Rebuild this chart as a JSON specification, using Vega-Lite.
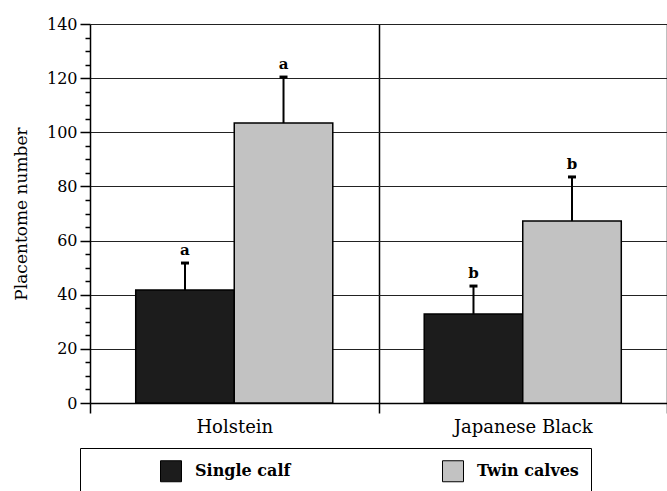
{
  "$schema": "https://vega.github.io/schema/vega-lite/v6.json",
  "width": 577,
  "height": 379,
  "autosize": "none",
  "padding": {"left": 90, "top": 24, "right": 0, "bottom": 88},
  "background": "white",
  "config": {"view": {"stroke": null}, "font": "DejaVu Serif"},
  "data": {"values": [
    {"breed": "Holstein", "calf": "Single calf", "mean": 41.7, "upper": 51.7, "letter": "a"},
    {"breed": "Holstein", "calf": "Twin calves", "mean": 103.4, "upper": 120.4, "letter": "a"},
    {"breed": "Japanese Black", "calf": "Single calf", "mean": 32.9, "upper": 43.2, "letter": "b"},
    {"breed": "Japanese Black", "calf": "Twin calves", "mean": 67.2, "upper": 83.5, "letter": "b"}
  ]},
  "encoding": {
    "x": {
      "field": "breed", "type": "nominal",
      "scale": {"domain": ["Holstein", "Japanese Black"], "paddingInner": 0, "paddingOuter": 0},
      "axis": {
        "title": null, "tickBand": "extent", "grid": true, "gridColor": "black", "gridWidth": 1.5,
        "gridOpacity": {"condition": {"test": "datum.extra", "value": 0}, "value": 1},
        "tickSize": 10, "tickColor": "black", "tickWidth": 1.5,
        "domainColor": "black", "domainWidth": 1.5,
        "labelFontSize": 18, "labelColor": "black", "labelPadding": 5, "labelAngle": 0
      }
    },
    "xOffset": {
      "field": "calf", "type": "nominal",
      "scale": {"domain": ["Single calf", "Twin calves"], "paddingInner": 0, "paddingOuter": 0.464}
    }
  },
  "layer": [
    {
      "mark": {"type": "bar", "stroke": "black", "strokeWidth": 1.5},
      "encoding": {
        "y": {
          "field": "mean", "type": "quantitative",
          "scale": {"domain": [0, 140], "nice": false},
          "axis": {
            "orient": "left",
            "values": [0, 20, 40, 60, 80, 100, 120, 140],
            "tickSize": 10, "tickWidth": 1.5, "tickColor": "black",
            "domainColor": "black", "domainWidth": 1.5,
            "grid": true, "gridColor": "#222222", "gridWidth": 1.2,
            "labelFontSize": 16, "labelColor": "black", "labelPadding": 3,
            "title": "Placentome number", "titleFontSize": 17, "titleFontWeight": "normal",
            "titleColor": "black", "titlePadding": 16
          }
        },
        "fill": {
          "field": "calf", "type": "nominal",
          "scale": {"domain": ["Single calf", "Twin calves"], "range": ["#1c1c1c", "#c2c2c2"]},
          "legend": {
            "orient": "none", "legendX": -10, "legendY": 424, "direction": "horizontal",
            "title": "\u00a0", "titleOrient": "left", "titlePadding": 68, "titleFontSize": 16,
            "strokeColor": "black", "padding": 12,
            "symbolType": "square", "symbolSize": 441, "symbolStrokeColor": "black", "symbolStrokeWidth": 1,
            "labelFontSize": 16, "labelFontWeight": "bold", "labelColor": "black", "labelOffset": 13,
            "columnPadding": 149, "labelLimit": 600,
            "labelExpr": "datum.label == 'Twin calves' ? 'Twin calves\u00a0\u00a0\u00a0\u00a0\u00a0\u00a0\u00a0\u00a0\u00a0\u00a0\u00a0\u00a0\u00a0\u00a0\u00a0\u00a0\u00a0\u00a0\u00a0\u00a0\u00a0\u00a0\u00a0\u00a0\u00a0\u00a0\u00a0\u00a0\u00a0\u00a0\u00a0\u00a0\u00a0\u00a0\u00a0\u00a0\u00a0\u00a0\u00a0\u00a0' : datum.label"
          }
        }
      }
    },
    {
      "mark": {"type": "rule", "strokeWidth": 2, "color": "black"},
      "encoding": {
        "y": {
          "field": "mean", "type": "quantitative",
          "scale": {"domain": [0, 140], "nice": false},
          "axis": {
            "orient": "left",
            "values": [5, 10, 15, 25, 30, 35, 45, 50, 55, 65, 70, 75, 85, 90, 95, 105, 110, 115, 125, 130, 135],
            "labels": false, "tickSize": 5, "tickWidth": 1.5, "tickColor": "black",
            "domain": false, "grid": false, "title": null
          }
        },
        "y2": {"field": "upper"}
      }
    },
    {
      "mark": {"type": "tick", "color": "black", "opacity": 1, "size": 8, "thickness": 3},
      "encoding": {
        "y": {"field": "upper", "type": "quantitative", "scale": {"domain": [0, 140], "nice": false}, "axis": null}
      }
    },
    {
      "mark": {"type": "text", "baseline": "bottom", "dy": -5, "fontWeight": "bold", "fontSize": 15, "color": "black"},
      "encoding": {
        "y": {"field": "upper", "type": "quantitative", "scale": {"domain": [0, 140], "nice": false}, "axis": null},
        "text": {"field": "letter"}
      }
    }
  ],
  "resolve": {"axis": {"y": "independent"}}
}
